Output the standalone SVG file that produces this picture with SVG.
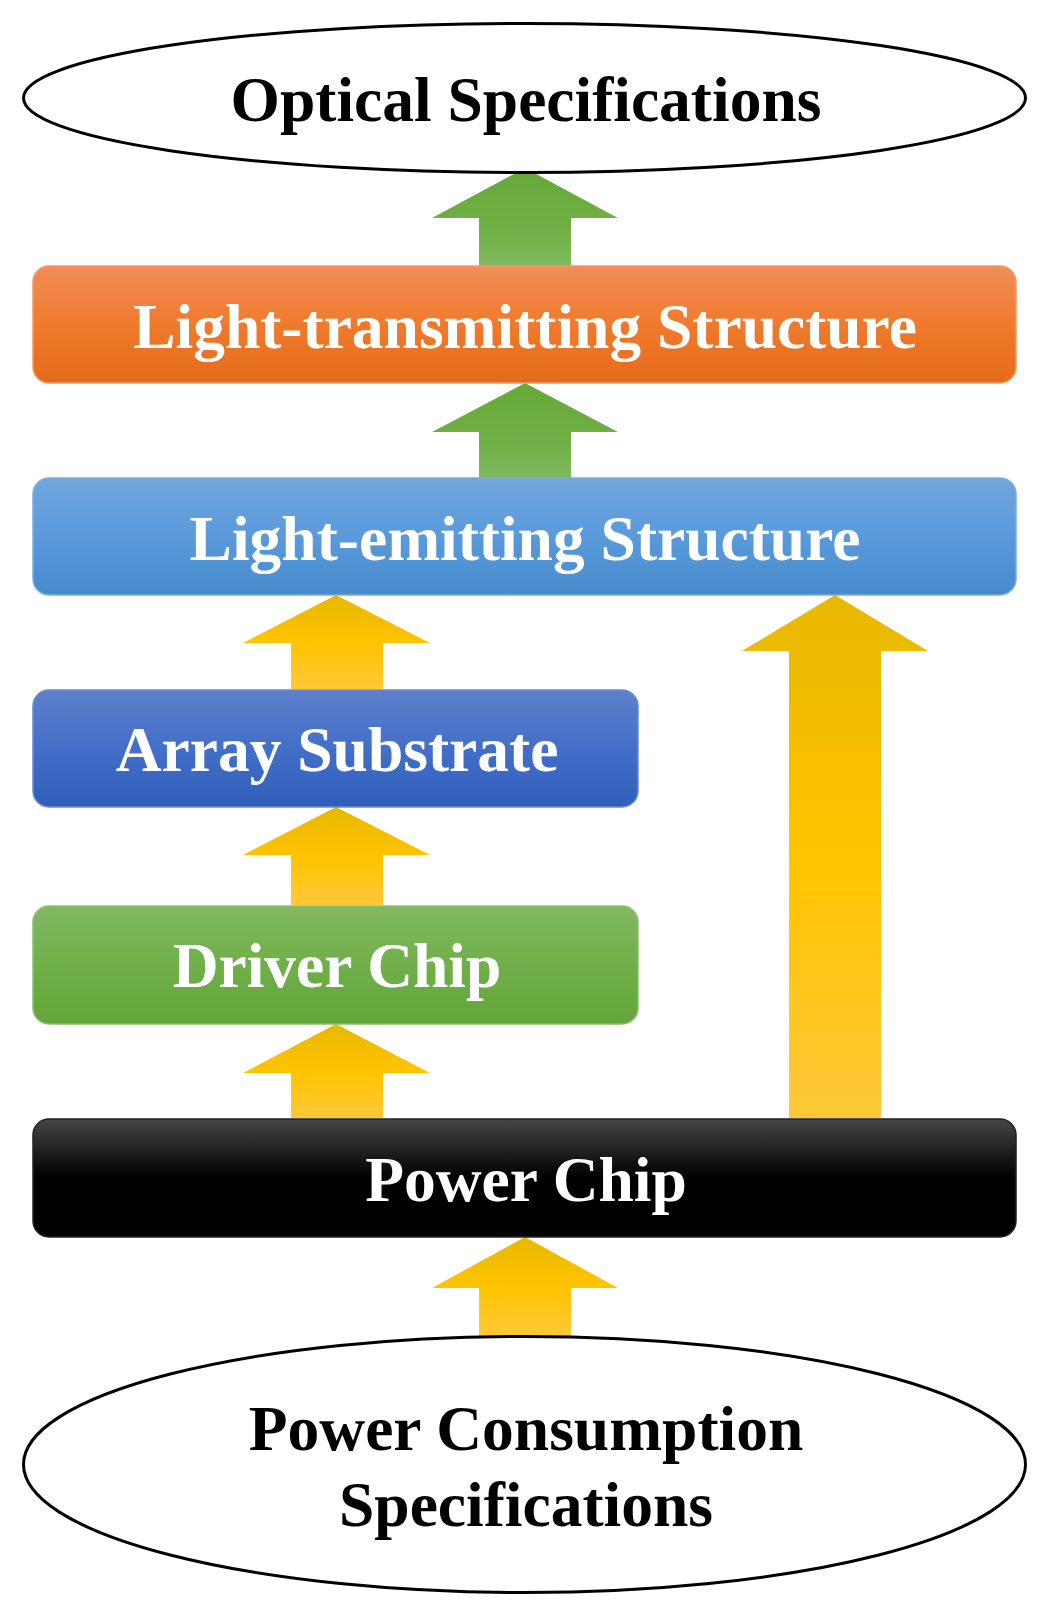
<svg xmlns="http://www.w3.org/2000/svg" width="1050" height="1617" viewBox="0 0 1050 1617">
<defs>
<linearGradient id="gOrange" x1="0" y1="0" x2="0" y2="1"><stop offset="0" stop-color="#F18E58"/><stop offset="0.5" stop-color="#F07A2C"/><stop offset="1" stop-color="#E56B1A"/></linearGradient>
<linearGradient id="gBlue" x1="0" y1="0" x2="0" y2="1"><stop offset="0" stop-color="#70A6DC"/><stop offset="0.5" stop-color="#5A9ADB"/><stop offset="1" stop-color="#468BCB"/></linearGradient>
<linearGradient id="gDBlue" x1="0" y1="0" x2="0" y2="1"><stop offset="0" stop-color="#5D80CC"/><stop offset="0.5" stop-color="#436FC8"/><stop offset="1" stop-color="#2F5EBA"/></linearGradient>
<linearGradient id="gGreen" x1="0" y1="0" x2="0" y2="1"><stop offset="0" stop-color="#82B863"/><stop offset="0.5" stop-color="#70AF49"/><stop offset="1" stop-color="#63A53A"/></linearGradient>
<linearGradient id="gBlack" x1="0" y1="0" x2="0" y2="1"><stop offset="0" stop-color="#464646"/><stop offset="0.5" stop-color="#000000"/><stop offset="1" stop-color="#000000"/></linearGradient>
<linearGradient id="gArrG" x1="0" y1="0" x2="0" y2="1"><stop offset="0" stop-color="#66A83A"/><stop offset="0.6" stop-color="#70AF45"/><stop offset="1" stop-color="#80B95E"/></linearGradient>
<linearGradient id="gArrY" x1="0" y1="0" x2="0" y2="1"><stop offset="0" stop-color="#E8B800"/><stop offset="0.5" stop-color="#FFC400"/><stop offset="1" stop-color="#FFC838"/></linearGradient>
</defs>
<style>
.lbl{font-family:"Liberation Serif","Times New Roman",serif;font-weight:bold;font-size:63.5px;text-anchor:middle}
.w{fill:#ffffff}
.k{fill:#000000}
.ell{fill:#ffffff;stroke:#000000;stroke-width:3}
.box{stroke-width:1.5}
</style>
<g id="connectors">
<path d="M479,266 L479,218 L432,218 L525,168 L618,218 L571,218 L571,266 Z" fill="url(#gArrG)"/>
<path d="M479,478 L479,432 L432,432 L525,383 L618,432 L571,432 L571,478 Z" fill="url(#gArrG)"/>
<path d="M291,689 L291,643 L243,643 L336,595 L430,643 L383,643 L383,689 Z" fill="url(#gArrY)"/>
<path d="M789,1118 L789,651 L742,651 L835,595 L928,651 L881,651 L881,1118 Z" fill="url(#gArrY)"/>
<path d="M291,905 L291,855 L243,855 L336,807 L430,855 L383,855 L383,905 Z" fill="url(#gArrY)"/>
<path d="M291,1118 L291,1073 L243,1073 L336,1024 L430,1073 L383,1073 L383,1118 Z" fill="url(#gArrY)"/>
<path d="M479,1336 L479,1288 L432,1288 L525,1237 L618,1288 L571,1288 L571,1336 Z" fill="url(#gArrY)"/>
</g>
<g id="optical">
<ellipse class="ell" cx="524.5" cy="98" rx="501" ry="74.5"/>
<text class="lbl k" x="526" y="121">Optical Specifications</text>
</g>
<g id="transmitting">
<rect class="box" x="33" y="266" width="983" height="117" rx="16" fill="url(#gOrange)" stroke="#F09A68"/>
<text class="lbl w" x="525" y="348">Light-transmitting Structure</text>
</g>
<g id="emitting">
<rect class="box" x="33" y="478" width="983" height="117" rx="16" fill="url(#gBlue)" stroke="#7AAEE0"/>
<text class="lbl w" x="525" y="560">Light-emitting Structure</text>
</g>
<g id="array">
<rect class="box" x="33" y="690" width="605" height="117" rx="16" fill="url(#gDBlue)" stroke="#6A8AD0"/>
<text class="lbl w" x="337" y="771">Array Substrate</text>
</g>
<g id="driver">
<rect class="box" x="33" y="906" width="605" height="118" rx="16" fill="url(#gGreen)" stroke="#8CC070"/>
<text class="lbl w" x="337" y="987">Driver Chip</text>
</g>
<g id="power">
<rect class="box" x="33" y="1119" width="983" height="118" rx="16" fill="url(#gBlack)" stroke="#222222"/>
<text class="lbl w" x="526" y="1201">Power Chip</text>
</g>
<g id="consumption">
<ellipse class="ell" cx="524.5" cy="1464.5" rx="501" ry="128"/>
<text class="lbl k" x="526" y="1450">Power Consumption</text>
<text class="lbl k" x="526" y="1526">Specifications</text>
</g>
</svg>
